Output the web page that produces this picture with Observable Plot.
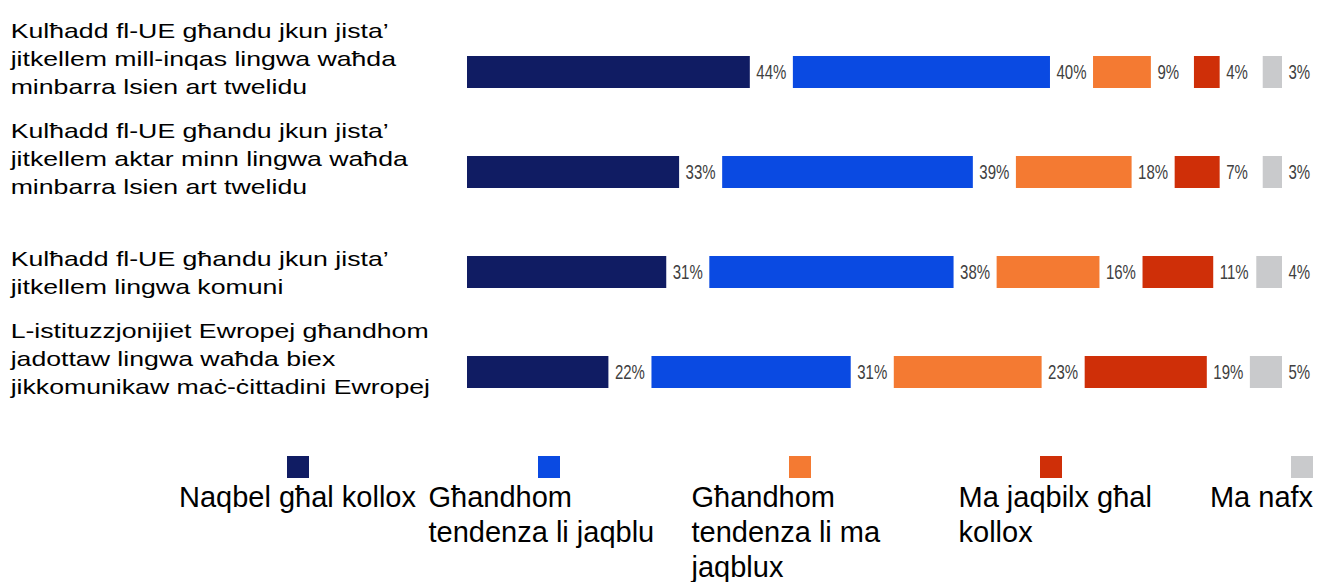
<!DOCTYPE html>
<html><head><meta charset="utf-8">
<script src="https://cdn.jsdelivr.net/npm/d3@7"></script>
<script src="https://cdn.jsdelivr.net/npm/@observablehq/plot@0.6"></script>
<style>
body{margin:0;background:#fff;font-family:"Liberation Sans",Arial,sans-serif;}
#chart{width:1326px;overflow:hidden;}
.legend{display:flex;margin-left:172px;margin-top:34px;}
.item{width:251px;flex:0 0 251px;text-align:center;}
.sw{width:22px;height:22px;margin:0 auto 2px;}
.lab{display:inline-block;position:relative;max-width:240px;text-align:left;font-size:29px;line-height:35px;color:#000;}
.item:nth-child(3) .lab{left:12px;}
.item:nth-child(4) .lab{left:28px;}
.item:last-child .lab{margin-left:-80px;}
</style></head><body><div id="chart"></div>
<script>
const categories = [
  "Kulħadd fl-UE għandu jkun jista’\njitkellem mill-inqas lingwa waħda\nminbarra lsien art twelidu",
  "Kulħadd fl-UE għandu jkun jista’\njitkellem aktar minn lingwa waħda\nminbarra lsien art twelidu",
  "Kulħadd fl-UE għandu jkun jista’\njitkellem lingwa komuni",
  "L-istituzzjonijiet Ewropej għandhom\njadottaw lingwa waħda biex\njikkomunikaw maċ-ċittadini Ewropej"
];
const series = ["Naqbel għal kollox","Għandhom tendenza li jaqblu","Għandhom tendenza li ma jaqblux","Ma jaqbilx għal kollox","Ma nafx"];
const totallyAgree    = [44, 33, 31, 22];
const tendToAgree     = [40, 39, 38, 31];
const tendToDisagree  = [9, 18, 16, 23];
const totallyDisagree = [4, 7, 11, 19];
const dontKnow        = [3, 3, 4, 5];
const colors = ["#101c63","#0a4ae2","#f47a32","#cf2f08","#c9cacc"];
const GAP = 6.7; // space left after each segment for its label, in percentage points

const valuesBySeries = [totallyAgree, tendToAgree, tendToDisagree, totallyDisagree, dontKnow];
const rows = [];
categories.forEach((c, i) => {
  let cum = 0;
  series.forEach((s, j) => {
    const v = valuesBySeries[j][i];
    const x1 = cum + j * GAP;
    rows.push({category: c, series: s, value: v, x1, x2: x1 + v});
    cum += v;
  });
});
const xMax = d3.max(rows, d => d.x2);

const plot = Plot.plot({
  width: 1326, height: 422,
  marginLeft: 467, marginRight: 44, marginTop: 22, marginBottom: 0,
  x: {domain: [0, xMax], axis: null},
  y: {domain: categories, axis: null, padding: 0},
  color: {domain: series, range: colors},
  style: {fontFamily: "'Liberation Sans',Arial,sans-serif", background: "#fff"},
  marks: [
    Plot.text(categories, {y: d => d, text: d => d, frameAnchor: "left", textAnchor: "start", lineAnchor: "bottom", dx: -457, dy: 21, fontSize: 21, lineHeight: 1.31, fill: "#000"}),
    Plot.barX(rows, {x1: "x1", x2: "x2", y: "category", fill: "series", insetTop: 34, insetBottom: 34}),
    Plot.text(rows, {x: "x2", y: "category", text: d => d.value + "%", textAnchor: "start", dx: 6, fontSize: 20, fill: "#404040"})
  ]
});
const textGroups = plot.querySelectorAll('g[aria-label="text"]');
// row labels: slightly widened glyphs as in the reference
{
  const g = textGroups[0];
  const t = g.getAttribute("transform") || "";
  g.setAttribute("transform", "translate(10,0) scale(1.27,1) translate(-10,0) " + t);
}
// value labels: condensed glyphs
textGroups[1].querySelectorAll("text").forEach(el => {
  el.setAttribute("transform", (el.getAttribute("transform") || "") + " scale(0.75,1)");
});
document.getElementById("chart").appendChild(plot);

const legend = d3.select("#chart").append("div").attr("class", "legend");
const items = legend.selectAll("div.item").data(series).join("div").attr("class", "item");
items.append("div").attr("class", "sw").style("background", (d, i) => colors[i]);
items.append("div").attr("class", "lab").text(d => d);
</script></body></html>
